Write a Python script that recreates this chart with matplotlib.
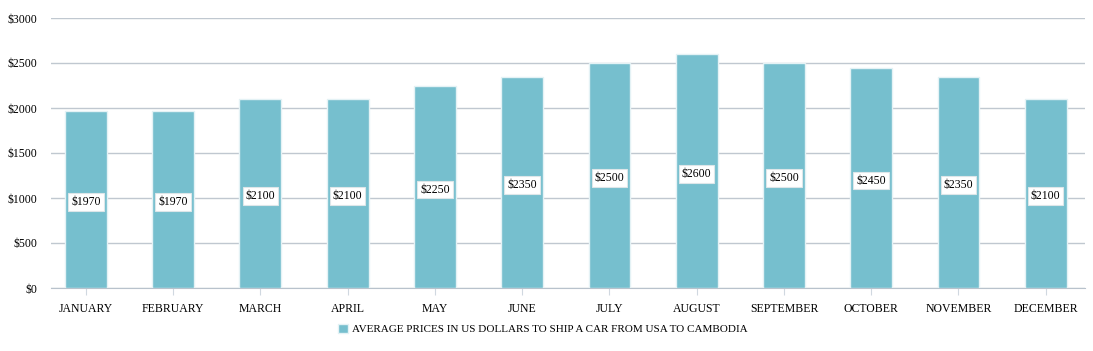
import matplotlib.pyplot as plt
import numpy as np

months = ['JANUARY', 'FEBRUARY', 'MARCH', 'APRIL', 'MAY', 'JUNE', 'JULY',
          'AUGUST', 'SEPTEMBER', 'OCTOBER', 'NOVEMBER', 'DECEMBER']
prices = [1970, 1970, 2100, 2100, 2250, 2350, 2500, 2600, 2500, 2450, 2350, 2100]
yticks = [0, 500, 1000, 1500, 2000, 2500, 3000]
series_name = 'AVERAGE PRICES IN US DOLLARS TO SHIP A CAR FROM USA TO CAMBODIA'

plt.rcParams['font.family'] = ['Liberation Serif', 'DejaVu Serif']

fig = plt.figure(figsize=(10.93, 3.51), dpi=100)
ax = fig.add_axes([51/1093, 63/351, 1034/1093, 270/351])

x = np.arange(len(months))
bars = ax.bar(x, prices, width=0.48, color='#76bfce', edgecolor='#e4f2f5',
              linewidth=1, zorder=3, label=series_name)

# value labels sit at the middle of each bar
for xi, v in zip(x, prices):
    ax.annotate('$%d' % v, (xi, v/2), xytext=(0, -2), textcoords='offset points',
                ha='center', va='center', fontsize=8.5, color='black', zorder=5,
                bbox=dict(boxstyle='square,pad=0.25', fc='white', ec='#dde6e9', lw=0.8))

ax.set_xlim(-0.40, 11.45)
ax.set_ylim(0, 3000)
ax.set_yticks(yticks)
ax.set_yticklabels(['$%d' % t for t in yticks], fontsize=8.5)
ax.set_xticks(x)
ax.set_xticklabels(months, fontsize=8.5)
ax.yaxis.grid(True, color='#c0c8d0', linewidth=1, zorder=0)
ax.tick_params(axis='y', length=0, pad=10)
ax.tick_params(axis='x', length=5, color='#d0d8e0', pad=6)
for s in ['top', 'right', 'left']:
    ax.spines[s].set_visible(False)
ax.spines['bottom'].set_color('#b8c2cc')

fig.legend(handles=[bars], labels=[series_name], loc='center',
           bbox_to_anchor=(543/1093, 1 - 329/351), frameon=False,
           fontsize=8, handlelength=0.9, handleheight=0.9, handletextpad=0.4)

plt.savefig('out.png', dpi=100)
